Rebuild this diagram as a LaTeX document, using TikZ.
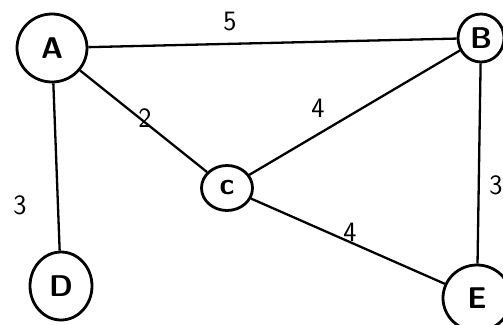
\documentclass[tikz,border=0pt]{standalone}
\usetikzlibrary{shapes.geometric}
\begin{document}
\begin{tikzpicture}[x=1pt,y=-1pt,
  vtx/.style={draw,ellipse,line width=2.8pt,inner sep=0pt,font=\sffamily\bfseries\fontsize{30}{34}\selectfont},
  edge/.style={line width=2.3pt},
  wlab/.style={font=\sffamily\fontsize{28}{32}\selectfont}]
\useasboundingbox (0,0) rectangle (503,324);
\clip (0,0) rectangle (503,324);
\node[vtx,minimum width=70pt,minimum height=68pt] (A) at (52,48) {A};
\node[vtx,minimum width=46pt,minimum height=48pt] (B) at (481,38) {B};
\node[vtx,minimum width=51pt,minimum height=45pt] (C) at (227,188) {c};
\node[vtx,minimum width=62pt,minimum height=68pt] (D) at (61,286) {D};
\node[vtx,minimum width=68pt,minimum height=66pt] (E) at (477,298) {E};
\draw[edge] (A) -- (B);
\draw[edge] (A) -- (C);
\draw[edge] (A) -- (D);
\draw[edge] (B) -- (C);
\draw[edge] (B) -- (E);
\draw[edge] (C) -- (E);
\node[wlab] (l5) at (230,22) {5};
\node[wlab] (l2) at (145,118) {2};
\node[wlab] (l4a) at (318,108) {4};
\node[wlab] (l3a) at (20,205) {3};
\node[wlab] (l4b) at (350,232) {4};
\node[wlab] (l3b) at (496,185) {3};
\end{tikzpicture}
\end{document}
